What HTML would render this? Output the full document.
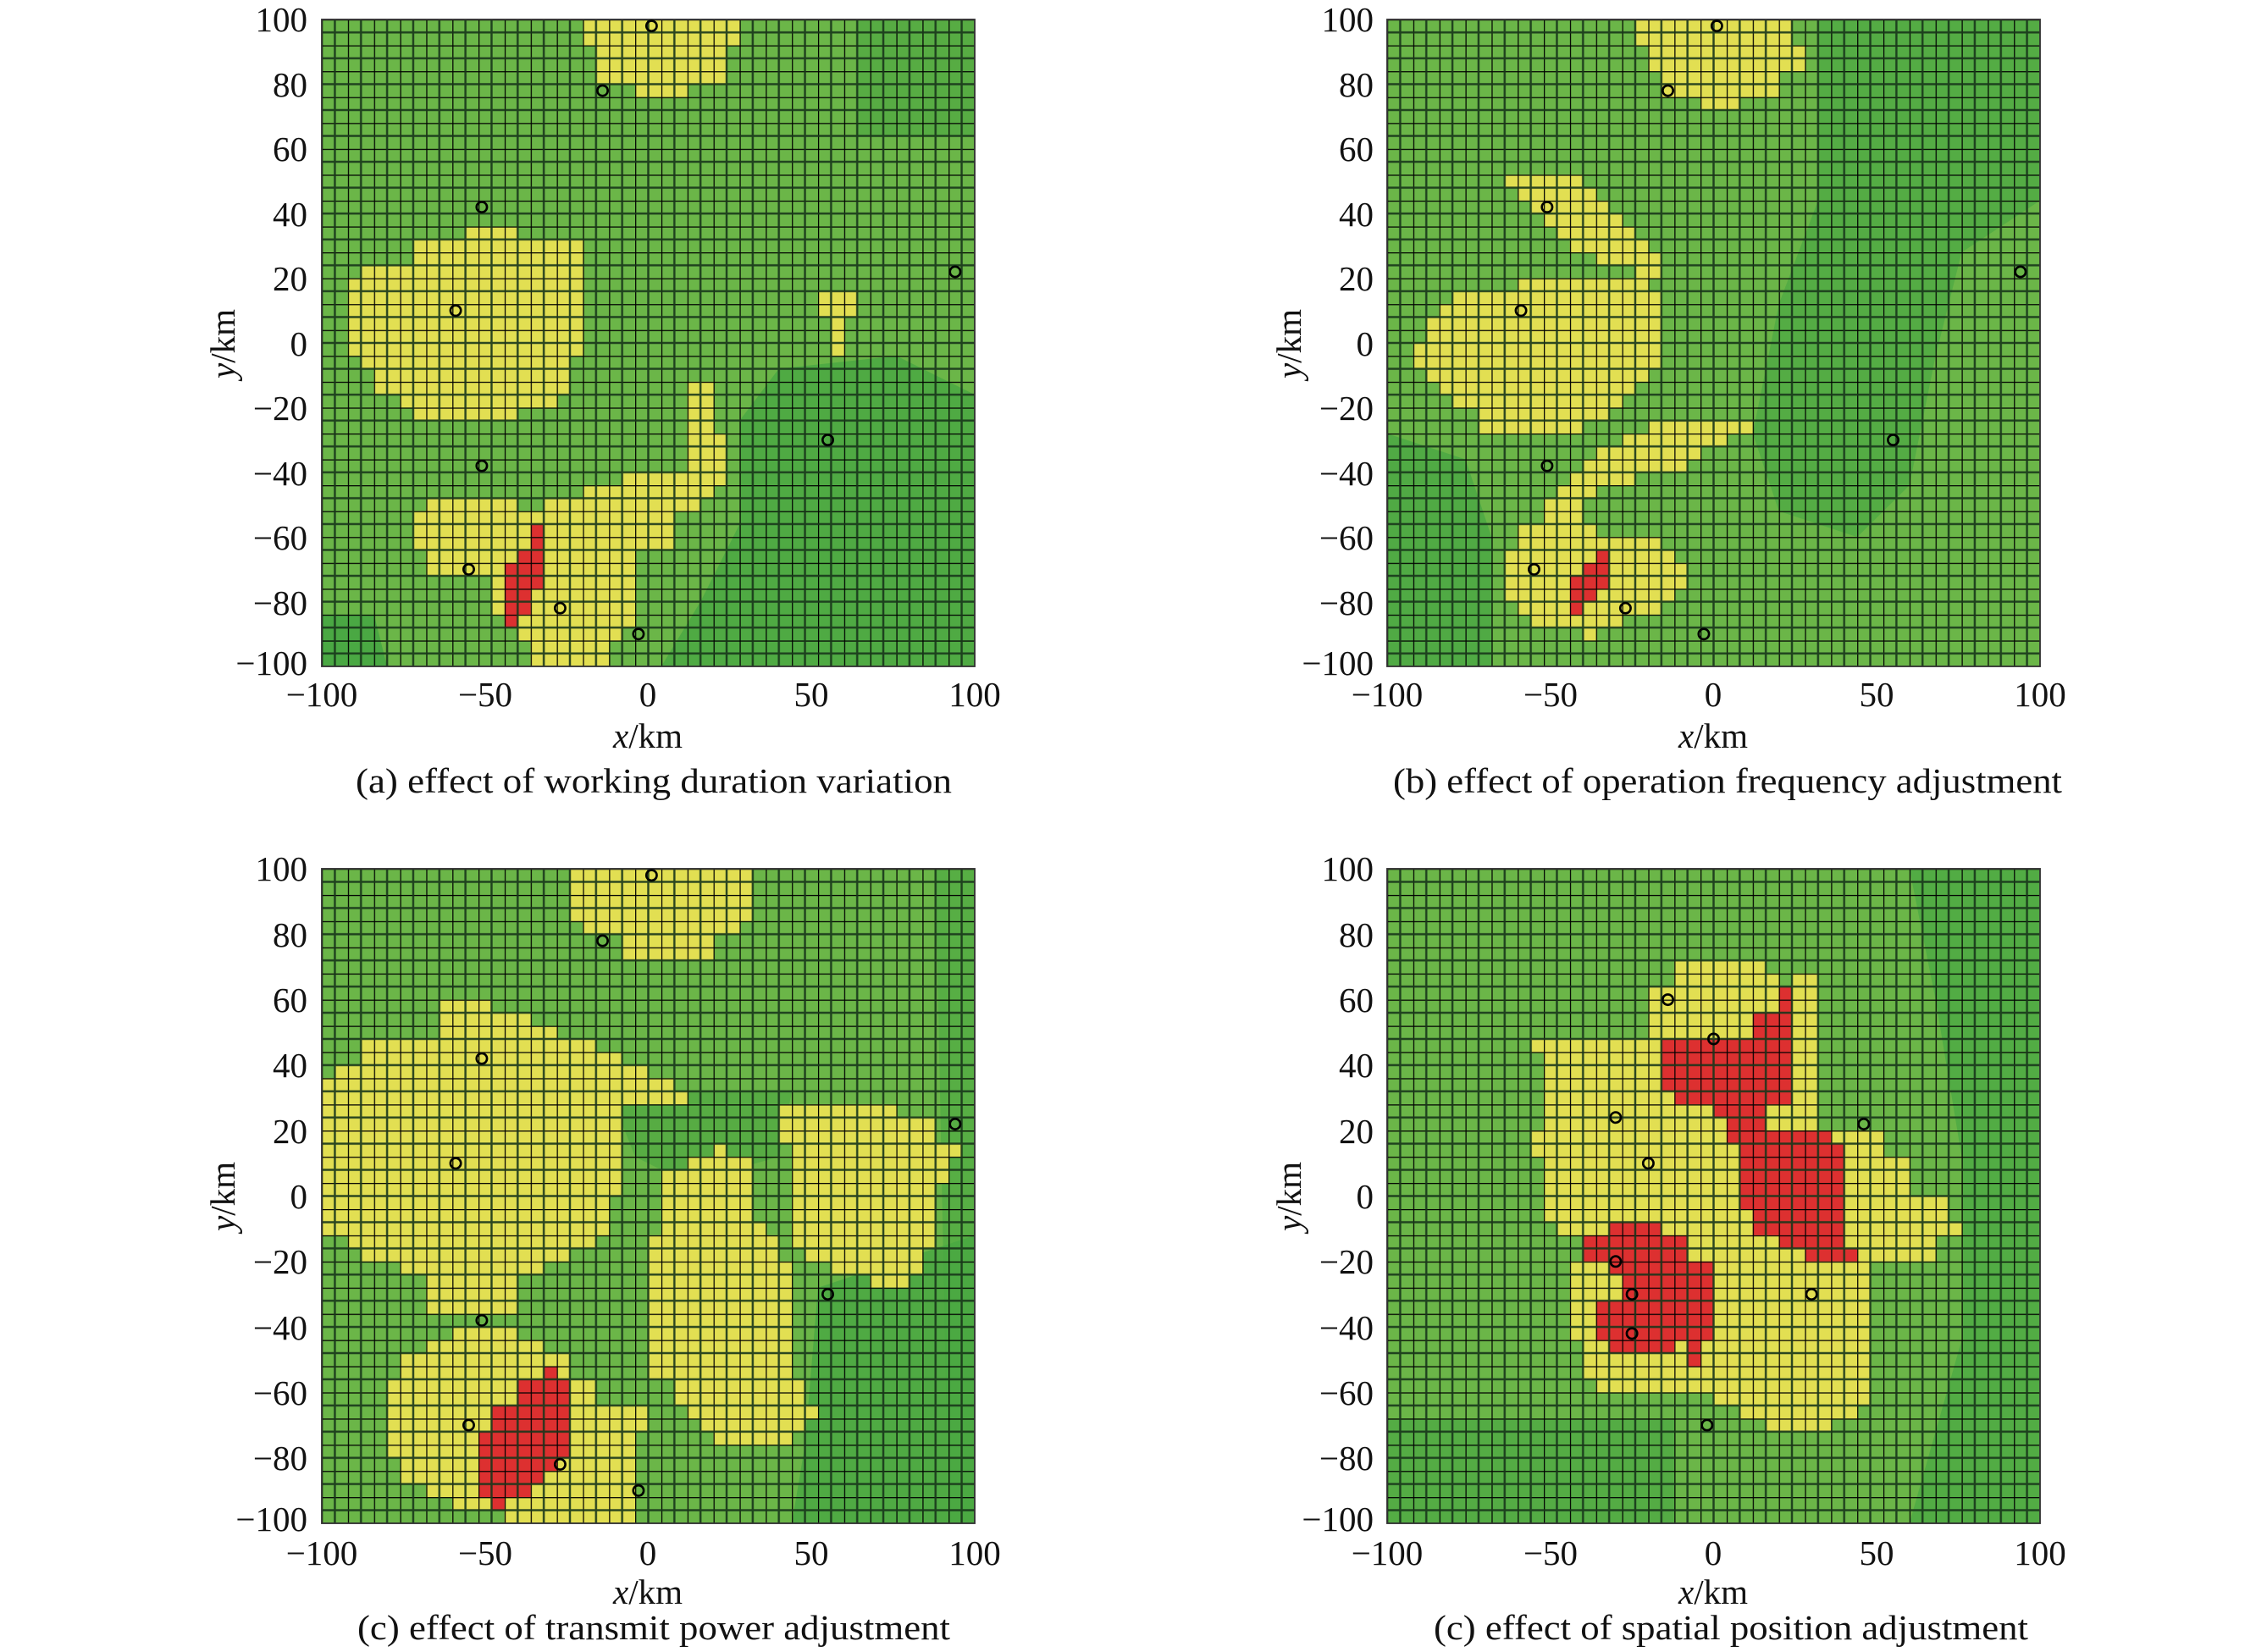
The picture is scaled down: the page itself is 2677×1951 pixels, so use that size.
<!DOCTYPE html>
<html><head><meta charset="utf-8"><style>
html,body{margin:0;padding:0;background:#fff;}
svg{display:block;}
text{font-family:"Liberation Serif","Times New Roman",serif;fill:#111;}
</style></head><body>
<svg width="2677" height="1951" viewBox="0 0 2677 1951" xmlns="http://www.w3.org/2000/svg" font-family="Liberation Serif, serif">
<defs>
<pattern id="grid" patternUnits="userSpaceOnUse" x="0" y="0" width="2" height="2">
<path d="M0 0V2M0 0H2" stroke="#000" stroke-width="0.16" fill="none"/>
<path d="M1 0V2M0 1H2" stroke="#17351a" stroke-width="0.16" fill="none" opacity="0.9"/>
</pattern>
</defs>

<!-- ===== Panel A ===== -->
<g transform="translate(380,23) scale(15.42,15.28)">
<rect x="0" y="0" width="50" height="50" fill="#6bb648"/>
<path d="M41 0H50V9H41Z" fill="#4ea842" opacity="0.7"/>
<path d="M35 27L44 26L50 29V50H26L29 45L32 39L32 31Z" fill="#4aa843" opacity="0.85"/>
<path d="M0 46L4 46L5 50H0Z" fill="#4aa843"/>
<g fill="#e2df52">
<path d="M20 0H32V2H31V5H28V6H24V5H21V2H20Z"/>
<path d="M11 16H15V17H20V26H19V29H18V30H15V31H7V30H6V29H4V27H3V26H2V20H3V19H7V17H11Z"/>
<path d="M38 21H41V23H40V26H39V23H38Z"/>
<path d="M28 28H30V32H31V36H30V37H29V38H27V41H24V47H23V48H22V50H16V48H15V47H14V46H13V43H8V41H7V38H8V37H15V38H17V37H20V36H23V35H28Z"/>
</g>
<path d="M16 39H17V44H16V46H15V47H14V42H15V41H16Z" fill="#dd3030"/>
<rect x="0" y="0" width="50" height="50" fill="url(#grid)"/>
<rect x="0" y="0" width="50" height="50" fill="none" stroke="#333" stroke-width="0.12"/>
<g fill="none" stroke="#000" stroke-width="0.17">
<circle cx="25.25" cy="0.5" r="0.4"/><circle cx="21.5" cy="5.5" r="0.4"/><circle cx="12.25" cy="14.5" r="0.4"/><circle cx="10.25" cy="22.5" r="0.4"/><circle cx="12.25" cy="34.5" r="0.4"/><circle cx="38.75" cy="32.5" r="0.4"/><circle cx="48.5" cy="19.5" r="0.4"/><circle cx="11.25" cy="42.5" r="0.4"/><circle cx="18.25" cy="45.5" r="0.4"/><circle cx="24.25" cy="47.5" r="0.4"/>
</g>
</g>

<!-- ===== Panel B ===== -->
<g transform="translate(1638,23) scale(15.42,15.28)">
<rect x="0" y="0" width="50" height="50" fill="#6bb648"/>
<path d="M33 0H50V14L44 18L42 26L40 36L36 40L30 38L28 32L30 22L33 14Z" fill="#4aa843" opacity="0.7"/>
<path d="M0 32L6 34L8 40L8 50H0Z" fill="#4aa843" opacity="0.8"/>
<g fill="#e2df52">
<path d="M19 0H31V2H32V4H30V6H27V7H24V6H21V4H20V2H19Z"/>
<path d="M9 12H15V13H16V14H17V15H18V16H19V17H20V18H21V20H19V19H16V18H14V17H13V16H12V15H11V14H10V13H9Z"/>
<path d="M10 20H20V21H21V27H20V28H19V29H18V30H17V31H15V32H7V30H5V29H4V28H3V27H2V25H3V23H4V22H5V21H10Z"/>
<path d="M20 31H28V32H26V33H24V34H23V35H19V36H16V37H15V39H16V40H21V41H22V42H23V44H22V45H21V46H18V47H16V48H15V47H11V46H10V45H9V41H10V39H12V37H13V36H14V35H15V34H16V33H18V32H20Z"/>
</g>
<path d="M16 41H17V44H16V45H15V46H14V43H15V42H16Z" fill="#dd3030"/>
<rect x="0" y="0" width="50" height="50" fill="url(#grid)"/>
<rect x="0" y="0" width="50" height="50" fill="none" stroke="#333" stroke-width="0.12"/>
<g fill="none" stroke="#000" stroke-width="0.17">
<circle cx="25.25" cy="0.5" r="0.4"/><circle cx="21.5" cy="5.5" r="0.4"/><circle cx="12.25" cy="14.5" r="0.4"/><circle cx="10.25" cy="22.5" r="0.4"/><circle cx="12.25" cy="34.5" r="0.4"/><circle cx="38.75" cy="32.5" r="0.4"/><circle cx="48.5" cy="19.5" r="0.4"/><circle cx="11.25" cy="42.5" r="0.4"/><circle cx="18.25" cy="45.5" r="0.4"/><circle cx="24.25" cy="47.5" r="0.4"/>
</g>
</g>

<!-- ===== Panel C ===== -->
<g transform="translate(380,1026) scale(15.42,15.46)">
<rect x="0" y="0" width="50" height="50" fill="#6bb648"/>
<path d="M38 32L50 28V50H36L37 44Z" fill="#4aa843" opacity="0.85"/>
<path d="M22 17H36L35 22L28 24L24 22Z" fill="#4ea842" opacity="0.7"/>
<path d="M47 0H50V50H48Z" fill="#4aa843" opacity="0.6"/>
<g fill="#e2df52">
<path d="M19 0H33V4H32V5H30V7H23V5H20V4H19Z"/>
<path d="M9 10H13V11H16V12H18V13H21V14H23V15H25V16H27V17H28V18H23V25H22V28H21V29H19V30H17V31H15V34H8V31H6V30H3V29H2V28H0V16H1V15H3V13H9Z"/>
<path d="M10 35H15V36H17V37H19V39H21V41H25V43H24V50H14V49H10V48H8V47H6V45H5V39H6V37H8V36H10Z"/>
<path d="M30 21H31V22H33V27H34V28H35V30H36V39H37V41H38V42H37V43H36V44H30V43H29V42H28V41H27V39H25V28H26V23H28V22H30Z"/>
<path d="M35 18H44V19H47V21H49V22H48V24H47V29H46V31H45V32H42V31H39V30H37V29H36V21H35Z"/>
</g>
<path d="M17 38H18V39H19V45H18V46H17V47H16V48H14V49H13V48H12V43H13V41H15V39H17Z" fill="#dd3030"/>
<rect x="0" y="0" width="50" height="50" fill="url(#grid)"/>
<rect x="0" y="0" width="50" height="50" fill="none" stroke="#333" stroke-width="0.12"/>
<g fill="none" stroke="#000" stroke-width="0.17">
<circle cx="25.25" cy="0.5" r="0.4"/><circle cx="21.5" cy="5.5" r="0.4"/><circle cx="12.25" cy="14.5" r="0.4"/><circle cx="10.25" cy="22.5" r="0.4"/><circle cx="12.25" cy="34.5" r="0.4"/><circle cx="38.75" cy="32.5" r="0.4"/><circle cx="48.5" cy="19.5" r="0.4"/><circle cx="11.25" cy="42.5" r="0.4"/><circle cx="18.25" cy="45.5" r="0.4"/><circle cx="24.25" cy="47.5" r="0.4"/>
</g>
</g>

<!-- ===== Panel D ===== -->
<g transform="translate(1638,1026) scale(15.42,15.46)">
<rect x="0" y="0" width="50" height="50" fill="#6bb648"/>
<path d="M40 0H50V50H40L44 36L44 22L42 10Z" fill="#4aa843" opacity="0.75"/>
<path d="M0 42H22V50H0Z" fill="#4aa843" opacity="0.7"/>
<g fill="#e2df52">
<path d="M22 7H29V8H30V9H31V8H33V20H38V22H40V25H43V27H44V28H42V30H37V41H36V42H34V43H29V42H27V41H25V40H16V39H15V36H14V30H15V28H13V27H12V22H11V20H12V14H11V13H20V9H22Z"/>
</g>
<g fill="#dd3030">
<path d="M30 9H31V18H29V20H34V21H35V29H36V30H32V29H30V28H28V26H27V21H26V19H25V18H22V17H21V13H28V11H30Z"/>
<path d="M17 27H21V28H23V30H25V36H24V38H23V36H22V37H17V36H16V33H18V31H17V30H15V28H17Z"/>
</g>
<rect x="0" y="0" width="50" height="50" fill="url(#grid)"/>
<rect x="0" y="0" width="50" height="50" fill="none" stroke="#333" stroke-width="0.12"/>
<g fill="none" stroke="#000" stroke-width="0.17">
<circle cx="21.5" cy="10" r="0.4"/><circle cx="25" cy="13" r="0.4"/><circle cx="17.5" cy="19" r="0.4"/><circle cx="20" cy="22.5" r="0.4"/><circle cx="36.5" cy="19.5" r="0.4"/><circle cx="17.5" cy="30" r="0.4"/><circle cx="18.75" cy="32.5" r="0.4"/><circle cx="18.75" cy="35.5" r="0.4"/><circle cx="32.5" cy="32.5" r="0.4"/><circle cx="24.5" cy="42.5" r="0.4"/>
</g>
</g>

<!-- ===== Axis labels ===== -->
<g font-size="41" text-anchor="end">
<text x="363" y="37">100</text><text x="363" y="114">80</text><text x="363" y="190">60</text><text x="363" y="267">40</text><text x="363" y="343">20</text><text x="363" y="420">0</text><text x="363" y="496">−20</text><text x="363" y="573">−40</text><text x="363" y="649">−60</text><text x="363" y="726">−80</text><text x="363" y="797">−100</text>
<text x="1622" y="37">100</text><text x="1622" y="114">80</text><text x="1622" y="190">60</text><text x="1622" y="267">40</text><text x="1622" y="343">20</text><text x="1622" y="420">0</text><text x="1622" y="496">−20</text><text x="1622" y="573">−40</text><text x="1622" y="649">−60</text><text x="1622" y="726">−80</text><text x="1622" y="797">−100</text>
<text x="363" y="1040">100</text><text x="363" y="1118">80</text><text x="363" y="1195">60</text><text x="363" y="1272">40</text><text x="363" y="1350">20</text><text x="363" y="1427">0</text><text x="363" y="1504">−20</text><text x="363" y="1582">−40</text><text x="363" y="1659">−60</text><text x="363" y="1736">−80</text><text x="363" y="1808">−100</text>
<text x="1622" y="1040">100</text><text x="1622" y="1118">80</text><text x="1622" y="1195">60</text><text x="1622" y="1272">40</text><text x="1622" y="1350">20</text><text x="1622" y="1427">0</text><text x="1622" y="1504">−20</text><text x="1622" y="1582">−40</text><text x="1622" y="1659">−60</text><text x="1622" y="1736">−80</text><text x="1622" y="1808">−100</text>
</g>
<g font-size="41" text-anchor="middle">
<text x="380" y="834">−100</text><text x="573" y="834">−50</text><text x="765" y="834">0</text><text x="958" y="834">50</text><text x="1151" y="834">100</text>
<text x="1638" y="834">−100</text><text x="1831" y="834">−50</text><text x="2023" y="834">0</text><text x="2216" y="834">50</text><text x="2409" y="834">100</text>
<text x="380" y="1848">−100</text><text x="573" y="1848">−50</text><text x="765" y="1848">0</text><text x="958" y="1848">50</text><text x="1151" y="1848">100</text>
<text x="1638" y="1848">−100</text><text x="1831" y="1848">−50</text><text x="2023" y="1848">0</text><text x="2216" y="1848">50</text><text x="2409" y="1848">100</text>
<text x="765" y="883"><tspan font-style="italic">x</tspan>/km</text>
<text x="2023" y="883"><tspan font-style="italic">x</tspan>/km</text>
<text x="765" y="1894"><tspan font-style="italic">x</tspan>/km</text>
<text x="2023" y="1894"><tspan font-style="italic">x</tspan>/km</text>
<text x="772" y="936" textLength="704" lengthAdjust="spacingAndGlyphs">(a) effect of working duration variation</text>
<text x="2040" y="936" textLength="790" lengthAdjust="spacingAndGlyphs">(b) effect of operation frequency adjustment</text>
<text x="772" y="1936" textLength="700" lengthAdjust="spacingAndGlyphs">(c) effect of transmit power adjustment</text>
<text x="2044" y="1936" textLength="702" lengthAdjust="spacingAndGlyphs">(c) effect of spatial position adjustment</text>
<text transform="translate(277,406) rotate(-90)"><tspan font-style="italic">y</tspan>/km</text>
<text transform="translate(1536,406) rotate(-90)"><tspan font-style="italic">y</tspan>/km</text>
<text transform="translate(277,1413) rotate(-90)"><tspan font-style="italic">y</tspan>/km</text>
<text transform="translate(1536,1413) rotate(-90)"><tspan font-style="italic">y</tspan>/km</text>
</g>
</svg>
</body></html>
